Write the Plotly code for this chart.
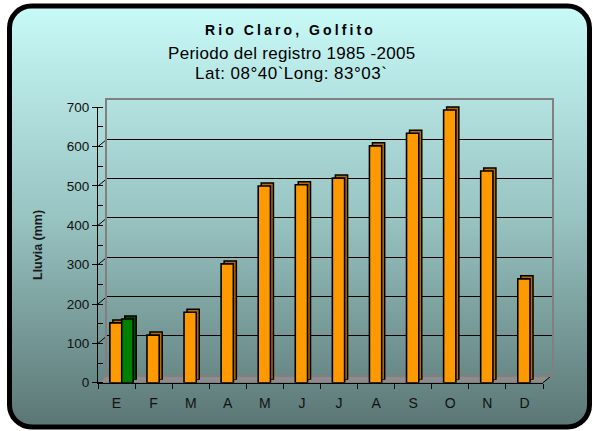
import base64
import plotly.graph_objects as go

# ---------------- data ----------------
months = ["E", "F", "M", "A", "M", "J", "J", "A", "S", "O", "N", "D"]
lluvia = [152, 121, 179, 302, 500, 503, 520, 602, 634, 693, 538, 264]
lluvia_actual = [162, None, None, None, None, None, None, None, None, None, None, None]
y_ticks = [0, 100, 200, 300, 400, 500, 600, 700]

title1 = "Rio Claro, Golfito"
title2 = "Periodo del registro 1985 -2005"
title3 = "Lat: 08°40`Long: 83°03`"
ytitle = "Lluvia (mm)"

# ---------------- layout geometry (pixels) ----------------
W, H = 593, 431
FX0, FX1 = 98, 543          # front plot area x
FYB, FYT = 382.7, 107.3     # front plot area y (0 and 700)
BDX, BDY = 9, -7.5          # back wall offset
DDX, DDY = 3, -3            # bar depth offset


def fx(p):
    return p / W


def fy(p):
    return 1 - p / H


idx = list(range(len(months)))
FONT = "Liberation Sans, Arial, sans-serif"

ORANGE, ORANGE_D = "#FF9900", "#B86A00"
GREEN, GREEN_D = "#008000", "#004A00"
BAR_W = 0.33
OFF_O = -0.18
OFF_G = 0.14

fig = go.Figure()

# invisible trace so the back-wall subplot is drawn
fig.add_trace(go.Scatter(x=[idx[0]], y=[y_ticks[0]], xaxis="x", yaxis="y", mode="markers",
                         marker=dict(opacity=0), hoverinfo="skip", showlegend=False))
# depth (back faces) of bars
fig.add_trace(go.Bar(x=idx, y=lluvia, xaxis="x2", yaxis="y2", width=BAR_W, offset=OFF_O,
                     marker=dict(color=ORANGE_D, line=dict(color="black", width=1.5)),
                     hoverinfo="skip", showlegend=False))
fig.add_trace(go.Bar(x=idx, y=lluvia_actual, xaxis="x2", yaxis="y2", width=BAR_W - 0.02, offset=OFF_G,
                     marker=dict(color=GREEN_D, line=dict(color="black", width=1.5)),
                     hoverinfo="skip", showlegend=False))
# front faces
fig.add_trace(go.Bar(x=idx, y=lluvia, xaxis="x3", yaxis="y3", width=BAR_W, offset=OFF_O,
                     name="Promedio",
                     marker=dict(color=ORANGE, line=dict(color="black", width=1.6)),
                     showlegend=False))
fig.add_trace(go.Bar(x=idx, y=lluvia_actual, xaxis="x3", yaxis="y3", width=BAR_W - 0.02, offset=OFF_G,
                     name="Actual",
                     marker=dict(color=GREEN, line=dict(color="black", width=1.6)),
                     showlegend=False))

xr = [-0.5, len(months) - 0.5]
yr = [0, 700]

svg = (
    f'<svg xmlns="http://www.w3.org/2000/svg" width="{W}" height="{H}" viewBox="0 0 {W} {H}" '
    'preserveAspectRatio="none"><defs><linearGradient id="g" x1="0" y1="0" x2="0" y2="1">'
    '<stop offset="0" stop-color="#c8faf8"/><stop offset="0.5" stop-color="#98c4c2"/>'
    '<stop offset="1" stop-color="#5a7674"/></linearGradient></defs>'
    '<rect x="9.5" y="6" width="580" height="421" rx="22" ry="22" fill="url(#g)" '
    'stroke="black" stroke-width="5"/></svg>'
)
src = "data:image/svg+xml;base64," + base64.b64encode(svg.encode()).decode()

shapes = []
fl = [(FX0, FYB), (FX1, FYB), (FX1 + BDX, FYB + BDY), (FX0 + BDX, FYB + BDY)]
path = "M " + " L ".join(f"{fx(a):.5f},{fy(b):.5f}" for a, b in fl) + " Z"
shapes.append(dict(type="path", xref="paper", yref="paper", path=path,
                   fillcolor="#8c8c8c", line=dict(color="#7a7a7a", width=1), layer="below"))
shapes.append(dict(type="line", xref="paper", yref="paper",
                   x0=fx(FX1), y0=fy(FYB), x1=fx(FX1 + BDX), y1=fy(FYB + BDY),
                   line=dict(color="black", width=1), layer="below"))
for v in y_ticks:
    col = "#808080" if v in (0, 700) else "black"
    shapes.append(dict(type="line", xref="paper", yref="y3", ysizemode="pixel", yanchor=v,
                       x0=fx(FX0), x1=fx(FX0 + BDX), y0=0, y1=-BDY,
                       line=dict(color=col, width=1), layer="below"))

annotations = [
    dict(text=f'<b><span style="letter-spacing:3.1px">{title1}</span></b>', x=fx(290), y=fy(30),
         xanchor="center", yanchor="middle",
         xref="paper", yref="paper", showarrow=False, font=dict(size=14, color="black", family=FONT)),
    dict(text=f'<span style="letter-spacing:0.3px">{title2}</span>', x=fx(291), y=fy(53),
         xanchor="center", yanchor="middle", xref="paper", yref="paper", showarrow=False,
         font=dict(size=17, color="black", family=FONT)),
    dict(text=f'<span style="letter-spacing:0.5px">{title3}</span>', x=fx(291), y=fy(73),
         xanchor="center", yanchor="middle", xref="paper", yref="paper", showarrow=False,
         font=dict(size=17, color="black", family=FONT)),
    dict(text=f"<b>{ytitle}</b>", x=fx(38), y=fy(245), xref="paper", yref="paper",
         xanchor="center", yanchor="middle",
         showarrow=False, textangle=-90, font=dict(size=12.5, color="#1a1a1a", family=FONT)),
]

fig.update_layout(
    width=W, height=H, margin=dict(l=0, r=0, t=0, b=0, pad=0, autoexpand=False),
    paper_bgcolor="white", plot_bgcolor="rgba(0,0,0,0)",
    barmode="overlay", showlegend=False,
    font=dict(family=FONT, color="black"),
    images=[dict(source=src, xref="paper", yref="paper", x=0, y=1, sizex=1, sizey=1,
                 sizing="stretch", xanchor="left", yanchor="top", layer="below")],
    shapes=shapes,
    annotations=annotations,
    xaxis=dict(domain=[fx(FX0 + BDX), fx(FX1 + BDX)], range=xr, anchor="y", automargin=False,
               showgrid=False, zeroline=False, showticklabels=False, ticks="",
               showline=True, linecolor="#808080", linewidth=1.5, mirror=True),
    yaxis=dict(domain=[fy(FYB + BDY), fy(FYT + BDY)], range=yr, anchor="x", automargin=False,
               showgrid=True, gridcolor="black", gridwidth=1, tickvals=y_ticks,
               zeroline=False, showticklabels=False, ticks="",
               showline=True, linecolor="#808080", linewidth=1.5, mirror=True),
    xaxis2=dict(domain=[fx(FX0 + DDX), fx(FX1 + DDX)], range=xr, anchor="y2", visible=False,
                automargin=False),
    yaxis2=dict(domain=[fy(FYB + DDY), fy(FYT + DDY)], range=yr, anchor="x2", visible=False,
                automargin=False),
    xaxis3=dict(domain=[fx(FX0), fx(FX1)], range=xr, anchor="y3", automargin=False,
                tickmode="array", tickvals=idx, ticktext=months, ticks="",
                ticklabelstandoff=7,
                showgrid=False, zeroline=False,
                showline=True, linecolor="black", linewidth=1,
                tickfont=dict(size=14, color="#111", family=FONT),
                minor=dict(ticks="outside", ticklen=5, tickcolor="black", tickwidth=1,
                           tick0=0.5, dtick=1, showgrid=False)),
    yaxis3=dict(domain=[fy(FYB), fy(FYT)], range=yr, anchor="x3", automargin=False,
                tickmode="array", tickvals=y_ticks, ticks="outside", ticklen=5,
                tickcolor="black", showgrid=False, zeroline=False,
                showline=True, linecolor="black", linewidth=1,
                tickfont=dict(size=13.5, color="#111", family=FONT),
                minor=dict(ticks="inside", ticklen=5, tickcolor="black",
                           tick0=0, dtick=50, showgrid=False)),
)

fig.write_html("out.html")
